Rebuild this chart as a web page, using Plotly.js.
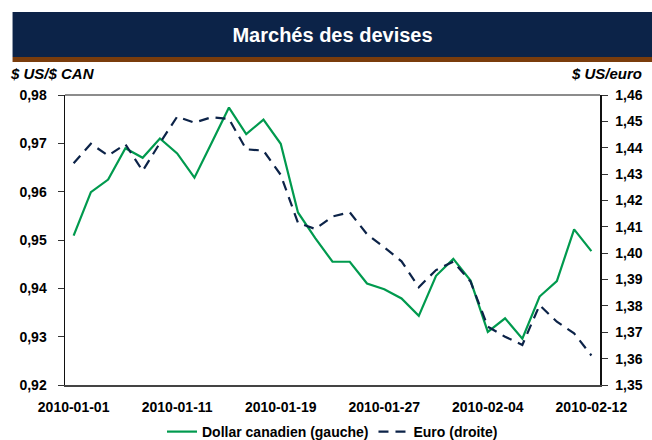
<!DOCTYPE html>
<html>
<head>
<meta charset="utf-8">
<script src="https://cdn.plot.ly/plotly-3.0.1.min.js"></script>
<style>
  html, body { margin: 0; padding: 0; background: #ffffff; }
  #chart { width: 652px; height: 440px; }
</style>
</head>
<body>
<div id="chart"></div>
<script>
const dates = ['2010-01-01','2010-01-04','2010-01-05','2010-01-06','2010-01-07','2010-01-08',
  '2010-01-11','2010-01-12','2010-01-13','2010-01-14','2010-01-15','2010-01-18',
  '2010-01-19','2010-01-20','2010-01-21','2010-01-22','2010-01-25','2010-01-26',
  '2010-01-27','2010-01-28','2010-01-29','2010-02-01','2010-02-02','2010-02-03',
  '2010-02-04','2010-02-05','2010-02-08','2010-02-09','2010-02-10','2010-02-11','2010-02-12'];

const cad = [0.9509,0.9599,0.9625,0.9690,0.9670,0.9710,0.9679,0.9629,0.9701,0.9774,0.9719,
  0.9749,0.9699,0.9557,0.9504,0.9455,0.9455,0.9410,0.9398,0.9379,0.9343,0.9426,0.9461,
  0.9416,0.9310,0.9338,0.9296,0.9383,0.9415,0.9522,0.9477];

const eur = [1.4341,1.4415,1.4370,1.4413,1.4312,1.4418,1.4518,1.4495,1.4516,1.4509,1.4394,
  1.4389,1.4297,1.4115,1.4092,1.4139,1.4155,1.4072,1.4022,1.3969,1.3871,1.3936,1.3968,
  1.3892,1.3721,1.3683,1.3652,1.3803,1.3740,1.3696,1.3612];

const tickDates = ['2010-01-01','2010-01-11','2010-01-19','2010-01-27','2010-02-04','2010-02-12'];

const seriesNames = ['Dollar canadien (gauche)', 'Euro (droite)'];
const chartTitle = 'Marchés des devises';
const leftTitle = '$ US/$ CAN';
const rightTitle = '$ US/euro';

const FONT = 'Arial, "Liberation Sans", sans-serif';
const NAVY = '#0c2348';
const GREEN = '#009a4e';

const traces = [
  {
    x: dates, y: cad, name: seriesNames[0], type: 'scatter', mode: 'lines',
    line: { color: GREEN, width: 2.2 }, yaxis: 'y', xaxis: 'x'
  },
  {
    x: dates, y: eur, name: seriesNames[1], type: 'scatter', mode: 'lines',
    line: { color: NAVY, width: 2.2, dash: '10px,7px' }, yaxis: 'y2', xaxis: 'x'
  }
];

const layout = {
  width: 652, height: 440,
  margin: { l: 64.5, r: 52, t: 95, b: 55 },
  paper_bgcolor: '#ffffff', plot_bgcolor: '#ffffff',
  separators: ', ',
  font: { family: FONT, size: 12, color: '#000000' },
  showlegend: true,
  title: {
    text: '<b>' + chartTitle + '</b>',
    font: { family: FONT, size: 20, color: '#ffffff' },
    xref: 'paper', x: 0.5, xanchor: 'center',
    yref: 'container', y: 1 - 35 / 440, yanchor: 'middle'
  },
  xaxis: {
    type: 'category',
    range: [-0.5, dates.length - 0.5],
    tickmode: 'array', tickvals: tickDates, ticktext: tickDates,
    ticks: 'outside', ticklen: 8, tickcolor: 'rgba(0,0,0,0)',
    tickfont: { family: FONT, size: 14, color: '#000000', weight: 'bold' },
    showgrid: false, zeroline: false,
    showline: true, linecolor: '#444444', linewidth: 2, mirror: false
  },
  yaxis: {
    range: [0.92, 0.98], dtick: 0.01, tick0: 0.92, tickformat: '.2f',
    ticks: 'outside', ticklen: 6, tickcolor: '#333333', tickwidth: 1,
    ticklabelstandoff: 8,
    tickfont: { family: FONT, size: 14, color: '#000000', weight: 'bold' },
    showgrid: false, zeroline: false,
    showline: true, linecolor: '#111111', linewidth: 1.5
  },
  yaxis2: {
    overlaying: 'y', side: 'right',
    range: [1.35, 1.46], dtick: 0.01, tick0: 1.35, tickformat: '.2f',
    ticks: 'outside', ticklen: 6, tickcolor: '#333333', tickwidth: 1,
    ticklabelstandoff: 5,
    tickfont: { family: FONT, size: 14, color: '#000000', weight: 'bold' },
    showgrid: false, zeroline: false,
    showline: true, linecolor: '#111111', linewidth: 1.5
  },
  legend: {
    orientation: 'h', xref: 'paper', x: 0.5, xanchor: 'center',
    yref: 'container', y: 1 - 432 / 440, yanchor: 'middle',
    font: { family: FONT, size: 14, color: '#000000', weight: 'bold' },
    bgcolor: 'rgba(0,0,0,0)', itemwidth: 30, tracegroupgap: 0
  },
  shapes: [
    { type: 'rect', xref: 'paper', yref: 'paper',
      x0: (12 - 64.5) / 535.5, x1: (660 - 64.5) / 535.5,
      y0: (385 - 57) / 290, y1: (385 - 12) / 290,
      fillcolor: NAVY, line: { width: 0 }, layer: 'below' },
    { type: 'rect', xref: 'paper', yref: 'paper',
      x0: (12 - 64.5) / 535.5, x1: (660 - 64.5) / 535.5,
      y0: (385 - 62) / 290, y1: (385 - 57) / 290,
      fillcolor: '#7a3c0c', line: { width: 0 }, layer: 'below' },
    { type: 'line', xref: 'paper', yref: 'paper', x0: 0, x1: 1, y0: 1, y1: 1,
      line: { color: '#666666', width: 1.5 } }
  ],
  annotations: [
    { text: '<b><i>' + leftTitle + '</i></b>', xref: 'paper', yref: 'paper',
      x: (7 - 64.5) / 535.5, xanchor: 'left', y: (385 - 74) / 290, yanchor: 'middle',
      showarrow: false, font: { family: FONT, size: 15, color: '#000000' } },
    { text: '<b><i>' + rightTitle + '</i></b>', xref: 'paper', yref: 'paper',
      x: (644 - 64.5) / 535.5, xanchor: 'right', y: (385 - 74) / 290, yanchor: 'middle',
      showarrow: false, font: { family: FONT, size: 15, color: '#000000' } }
  ]
};

Plotly.newPlot('chart', traces, layout, { staticPlot: true, displayModeBar: false });
</script>
</body>
</html>
